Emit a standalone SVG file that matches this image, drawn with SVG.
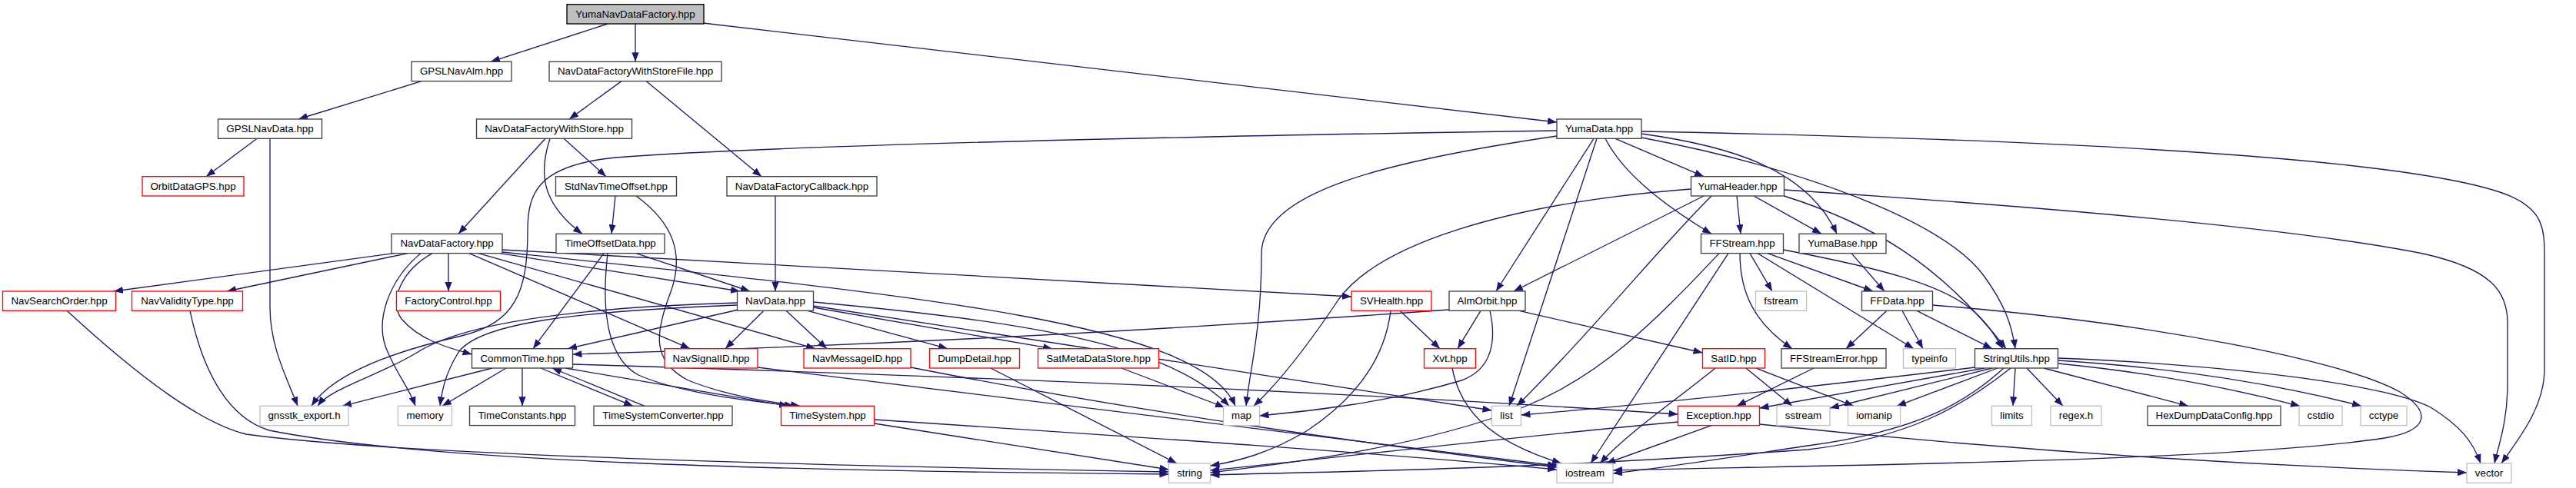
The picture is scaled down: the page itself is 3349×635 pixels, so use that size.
<svg xmlns="http://www.w3.org/2000/svg" width="3349" height="635" viewBox="0 0 3349 635">
<defs>
<style>
.n rect{fill:#fff;stroke:#404040;stroke-width:1.33}
.r rect{fill:#fff;stroke:#ff0000;stroke-width:1.33}
.g rect{fill:#fff;stroke:#bfbfbf;stroke-width:1.33}
.root rect{fill:#bfbfbf;stroke:#000;stroke-width:1.33}
text{font-family:"Liberation Sans",Arial,sans-serif;font-size:13.33px;text-anchor:middle;fill:#000}
#edges path{fill:none;stroke:#191970;stroke-width:1.33;marker-end:url(#a)}
</style>
<marker id="a" markerUnits="userSpaceOnUse" markerWidth="12" markerHeight="9.2" refX="12" refY="4.6" orient="auto" viewBox="0 0 12 9.2"><path d="M0,0 L12,4.6 L0,9.2 z" fill="#191970"/></marker>
</defs>
<rect width="3349" height="635" fill="#fff"/>
<g id="edges">
<path d="M790,31 L638,80.3"/>
<path d="M826,31 L826,80.3"/>
<path d="M914,30 L2024,159"/>
<path d="M548,105.6 L388,155"/>
<path d="M334,180.3 L268,229.7"/>
<path d="M351,180.3 L351,400 C351,450 372,490 387,528.3"/>
<path d="M808,105.6 L740,155"/>
<path d="M840,105.6 L990,229.7"/>
<path d="M709,180.3 L596,304.3"/>
<path d="M715,180.3 C702,220 700,262 757,304.3"/>
<path d="M733,180.3 L788,229.7"/>
<path d="M800,255 L795,304.3"/>
<path d="M827,255 C875,290 890,330 872,380 C852,432 846,470 895,495 C945,515 995,522 1040,528.3"/>
<path d="M1008,255 L1008,379"/>
<path d="M785,329.6 L693,453.7"/>
<path d="M790,329.6 C782,400 788,465 830,488 C880,510 960,520 1032,528.3"/>
<path d="M827,329.6 L975,379"/>
<path d="M512,329.6 L148,379"/>
<path d="M530,329.6 L295,379"/>
<path d="M583,329.6 L583,379"/>
<path d="M547,329.6 C505,365 485,420 505,460 C518,490 532,505 540,528.3"/>
<path d="M562,329.6 C522,352 505,392 522,415 C545,442 580,452 613.5,461"/>
<path d="M650,329.6 L962,379"/>
<path d="M610,329.6 L897,453.7"/>
<path d="M622,329.6 L1060,453.7"/>
<path d="M653,325 L1757,386"/>
<path d="M653,328 C1200,385 1560,420 1606,528.3"/>
<path d="M993,404.3 L943,453.7"/>
<path d="M1022,404.3 L1075,453.7"/>
<path d="M960,403 L738,453.7"/>
<path d="M958.5,394 C750,400 600,420 540,460 C490,490 430,505 413,528.3"/>
<path d="M958.5,397 C750,405 620,420 595,460 C580,485 575,505 572,528.3"/>
<path d="M1057.5,393 C1350,420 1520,450 1598,528.3"/>
<path d="M1057.5,398 L1939.5,534"/>
<path d="M1050,404.3 L1232,453.7"/>
<path d="M1057.5,400 L1368,453.7"/>
<path d="M679,479 L679,528.3"/>
<path d="M703,479 L823,528.3"/>
<path d="M838,528.3 L718,479"/>
<path d="M640,479 L445,528.3"/>
<path d="M658,479 L575,528.3"/>
<path d="M744.5,474 Q1600,500 2181.5,539"/>
<path d="M735,479 L1025,528.3"/>
<path d="M1884,403 Q1300,445 744.5,461"/>
<path d="M1925,404.3 L1895,453.7"/>
<path d="M1820,404.3 L1872,453.7"/>
<path d="M1937,404.3 C1945,440 1942,480 1900,495 C1800,525 1700,535 1637.5,541"/>
<path d="M1975,404.3 L2213.5,459"/>
<path d="M1808,404.3 C1800,470 1760,520 1700,560 C1650,590 1610,600 1573.5,606"/>
<path d="M1888,479 C1898,530 1930,572 2030,603"/>
<path d="M2024,170 C1500,178 1000,190 800,205 C700,215 686,250 686,300 C686,380 670,420 600,437 C500,460 430,490 405,528.3"/>
<path d="M2024,177 C1800,210 1640,250 1640,330 C1640,430 1625,480 1620,528.3"/>
<path d="M2072,180.3 L1945,379"/>
<path d="M2076,180.3 L1962,528.3"/>
<path d="M2087,180.3 C2110,225 2160,265 2225,304.3"/>
<path d="M2100,180.3 L2215,229.7"/>
<path d="M2134,171 C2600,180 3100,200 3250,250 C3310,270 3308,300 3308,340 L3308,480 C3308,530 3275,570 3252,603"/>
<path d="M2134,174 C2250,190 2350,220 2388,304.3"/>
<path d="M2134,179 C2350,220 2530,290 2580,360 C2605,395 2615,420 2620,453.7"/>
<path d="M2198.5,246 C1950,265 1790,320 1740,390 C1700,450 1660,500 1630,528.3"/>
<path d="M2215,255 L1968,379"/>
<path d="M2225,255 C2150,330 2080,420 1972,528.3"/>
<path d="M2258,255 L2263,304.3"/>
<path d="M2280,255 L2368,304.3"/>
<path d="M2319.5,255 C2430,290 2520,340 2608,453.7"/>
<path d="M2319.5,247 C2700,272 3000,300 3150,330 C3240,350 3260,380 3260,420 L3260,500 C3260,550 3248,580 3243,603"/>
<path d="M2262,329.6 C2262,380 2280,420 2330,453.7"/>
<path d="M2275,329.6 L2304,379"/>
<path d="M2285,329.6 L2488,453.7"/>
<path d="M2298,329.6 L2435,379"/>
<path d="M2318.5,325 C2450,350 2520,370 2560,400 C2585,420 2595,440 2604,453.7"/>
<path d="M2247,329.6 L2068,603"/>
<path d="M2235,329.6 C2150,420 2080,490 1980,530 C1850,580 1700,600 1573.5,615"/>
<path d="M2407,329.6 L2450,379"/>
<path d="M2453,404.3 L2400,453.7"/>
<path d="M2473,404.3 L2500,453.7"/>
<path d="M2492,404.3 L2590,453.7"/>
<path d="M2512.5,397 C2800,420 3050,470 3120,510 C3160,535 3160,560 3100,570 C2900,600 2400,605 2097,612"/>
<path d="M2358,479 L2258,528.3"/>
<path d="M2270,479 L2330,528.3"/>
<path d="M2283,479 L2410,528.3"/>
<path d="M2230,479 C2180,520 2120,560 2080,603"/>
<path d="M2225,553.6 L2088,603"/>
<path d="M2181.5,549 C1900,575 1700,600 1573.5,612"/>
<path d="M2287.5,552 C2600,585 2900,605 3207,615"/>
<path d="M2567.5,478 C2300,510 2100,530 1977.5,540"/>
<path d="M2580,479 L2287.5,531"/>
<path d="M2590,479 L2379,531"/>
<path d="M2597,479 L2466,528.3"/>
<path d="M2620,479 L2617,528.3"/>
<path d="M2635,479 L2682,528.3"/>
<path d="M2657,479 L2845,528.3"/>
<path d="M2675.5,473 C2800,485 2900,505 2990,528.3"/>
<path d="M2675.5,469 C2850,480 2980,505 3070,528.3"/>
<path d="M2675.5,466 C2900,475 3100,500 3160,530 C3200,555 3215,575 3225,603"/>
<path d="M2614,479 C2550,530 2480,570 2350,585 C2000,610 1800,612 1573.5,618"/>
<path d="M2605,479 C2560,520 2500,560 2350,580 C2250,595 2170,608 2097,616"/>
<path d="M1136.5,551 L1519.5,611"/>
<path d="M1136.5,546 C1500,570 1800,590 2024,611"/>
<path d="M87,404.3 C180,490 260,550 320,565 C500,590 1000,605 1519.5,614"/>
<path d="M247,404.3 C265,490 300,545 350,560 C550,600 1000,613 1519.5,617"/>
<path d="M1288,479 L1530,603"/>
<path d="M1458,479 L1592,530"/>
<path d="M985,478 L2024,606"/>
<path d="M1184,478 C1500,540 1800,580 2024,608"/>
</g>
<g id="n_root" class="root"><rect x="737" y="5.7" width="178" height="25.3"/><text x="826" y="22.7">YumaNavDataFactory.hpp</text></g>
<g id="n_alm" class="n"><rect x="535" y="80.3" width="130" height="25.3"/><text x="600" y="97.3">GPSLNavAlm.hpp</text></g>
<g id="n_sf" class="n"><rect x="714" y="80.3" width="224" height="25.3"/><text x="826" y="97.3">NavDataFactoryWithStoreFile.hpp</text></g>
<g id="n_yd" class="n"><rect x="2024" y="155" width="110" height="25.3"/><text x="2079" y="172">YumaData.hpp</text></g>
<g id="n_gd" class="n"><rect x="283.5" y="155" width="135" height="25.3"/><text x="351" y="172">GPSLNavData.hpp</text></g>
<g id="n_ws" class="n"><rect x="619.5" y="155" width="202" height="25.3"/><text x="720.5" y="172">NavDataFactoryWithStore.hpp</text></g>
<g id="n_yh" class="n"><rect x="2198.5" y="229.7" width="121" height="25.3"/><text x="2259" y="246.7">YumaHeader.hpp</text></g>
<g id="n_orb" class="r"><rect x="185" y="229.7" width="132" height="25.3"/><text x="251" y="246.7">OrbitDataGPS.hpp</text></g>
<g id="n_std" class="n"><rect x="722.5" y="229.7" width="157" height="25.3"/><text x="801" y="246.7">StdNavTimeOffset.hpp</text></g>
<g id="n_cb" class="n"><rect x="945" y="229.7" width="195" height="25.3"/><text x="1042.5" y="246.7">NavDataFactoryCallback.hpp</text></g>
<g id="n_nf" class="n"><rect x="509" y="304.3" width="144" height="25.3"/><text x="581" y="321.3">NavDataFactory.hpp</text></g>
<g id="n_tod" class="n"><rect x="723" y="304.3" width="141" height="25.3"/><text x="793.5" y="321.3">TimeOffsetData.hpp</text></g>
<g id="n_ffs" class="n"><rect x="2211.5" y="304.3" width="107" height="25.3"/><text x="2265" y="321.3">FFStream.hpp</text></g>
<g id="n_yb" class="n"><rect x="2339" y="304.3" width="113" height="25.3"/><text x="2395.5" y="321.3">YumaBase.hpp</text></g>
<g id="n_nso" class="r"><rect x="3.5" y="379" width="147" height="25.3"/><text x="77" y="396">NavSearchOrder.hpp</text></g>
<g id="n_nvt" class="r"><rect x="171.5" y="379" width="144" height="25.3"/><text x="243.5" y="396">NavValidityType.hpp</text></g>
<g id="n_fc" class="r"><rect x="515.5" y="379" width="135" height="25.3"/><text x="583" y="396">FactoryControl.hpp</text></g>
<g id="n_nd" class="n"><rect x="958.5" y="379" width="99" height="25.3"/><text x="1008" y="396">NavData.hpp</text></g>
<g id="n_svh" class="r"><rect x="1757" y="379" width="104" height="25.3"/><text x="1809" y="396">SVHealth.hpp</text></g>
<g id="n_ao" class="n"><rect x="1884" y="379" width="99" height="25.3"/><text x="1933.5" y="396">AlmOrbit.hpp</text></g>
<g id="n_fst" class="g"><rect x="2282.5" y="379" width="66" height="25.3"/><text x="2315.5" y="396">fstream</text></g>
<g id="n_ffd" class="n"><rect x="2420.5" y="379" width="92" height="25.3"/><text x="2466.5" y="396">FFData.hpp</text></g>
<g id="n_ct" class="n"><rect x="613.5" y="453.7" width="131" height="25.3"/><text x="679" y="470.7">CommonTime.hpp</text></g>
<g id="n_nsi" class="r"><rect x="864" y="453.7" width="121" height="25.3"/><text x="924.5" y="470.7">NavSignalID.hpp</text></g>
<g id="n_nmi" class="r"><rect x="1045" y="453.7" width="139" height="25.3"/><text x="1114.5" y="470.7">NavMessageID.hpp</text></g>
<g id="n_dd" class="r"><rect x="1208.5" y="453.7" width="117" height="25.3"/><text x="1267" y="470.7">DumpDetail.hpp</text></g>
<g id="n_smd" class="r"><rect x="1349.5" y="453.7" width="157" height="25.3"/><text x="1428" y="470.7">SatMetaDataStore.hpp</text></g>
<g id="n_xvt" class="r"><rect x="1851.5" y="453.7" width="67" height="25.3"/><text x="1885" y="470.7">Xvt.hpp</text></g>
<g id="n_sat" class="r"><rect x="2213.5" y="453.7" width="81" height="25.3"/><text x="2254" y="470.7">SatID.hpp</text></g>
<g id="n_ffe" class="n"><rect x="2316" y="453.7" width="136" height="25.3"/><text x="2384" y="470.7">FFStreamError.hpp</text></g>
<g id="n_ti" class="g"><rect x="2474.5" y="453.7" width="68" height="25.3"/><text x="2508.5" y="470.7">typeinfo</text></g>
<g id="n_su" class="n"><rect x="2567.5" y="453.7" width="108" height="25.3"/><text x="2621.5" y="470.7">StringUtils.hpp</text></g>
<g id="n_gx" class="g"><rect x="338" y="528.3" width="115" height="25.3"/><text x="395.5" y="545.3">gnsstk_export.h</text></g>
<g id="n_mem" class="g"><rect x="517.5" y="528.3" width="70" height="25.3"/><text x="552.5" y="545.3">memory</text></g>
<g id="n_tc" class="n"><rect x="610.5" y="528.3" width="137" height="25.3"/><text x="679" y="545.3">TimeConstants.hpp</text></g>
<g id="n_tsc" class="n"><rect x="772" y="528.3" width="180" height="25.3"/><text x="862" y="545.3">TimeSystemConverter.hpp</text></g>
<g id="n_ts" class="r"><rect x="1015.5" y="528.3" width="121" height="25.3"/><text x="1076" y="545.3">TimeSystem.hpp</text></g>
<g id="n_map" class="g"><rect x="1590.5" y="528.3" width="47" height="25.3"/><text x="1614" y="545.3">map</text></g>
<g id="n_list" class="g"><rect x="1939.5" y="528.3" width="38" height="25.3"/><text x="1958.5" y="545.3">list</text></g>
<g id="n_exc" class="r"><rect x="2181.5" y="528.3" width="106" height="25.3"/><text x="2234.5" y="545.3">Exception.hpp</text></g>
<g id="n_ss" class="g"><rect x="2310" y="528.3" width="69" height="25.3"/><text x="2344.5" y="545.3">sstream</text></g>
<g id="n_iom" class="g"><rect x="2402.5" y="528.3" width="68" height="25.3"/><text x="2436.5" y="545.3">iomanip</text></g>
<g id="n_lim" class="g"><rect x="2589.5" y="528.3" width="52" height="25.3"/><text x="2615.5" y="545.3">limits</text></g>
<g id="n_rx" class="g"><rect x="2666" y="528.3" width="66" height="25.3"/><text x="2699" y="545.3">regex.h</text></g>
<g id="n_hex" class="n"><rect x="2792" y="528.3" width="173" height="25.3"/><text x="2878.5" y="545.3">HexDumpDataConfig.hpp</text></g>
<g id="n_cstd" class="g"><rect x="2989" y="528.3" width="56" height="25.3"/><text x="3017" y="545.3">cstdio</text></g>
<g id="n_cct" class="g"><rect x="3069" y="528.3" width="60" height="25.3"/><text x="3099" y="545.3">cctype</text></g>
<g id="n_str" class="g"><rect x="1519.5" y="603" width="54" height="25.3"/><text x="1546.5" y="620">string</text></g>
<g id="n_ios" class="g"><rect x="2024" y="603" width="73" height="25.3"/><text x="2060.5" y="620">iostream</text></g>
<g id="n_vec" class="g"><rect x="3207" y="603" width="58" height="25.3"/><text x="3236" y="620">vector</text></g>
</svg>
